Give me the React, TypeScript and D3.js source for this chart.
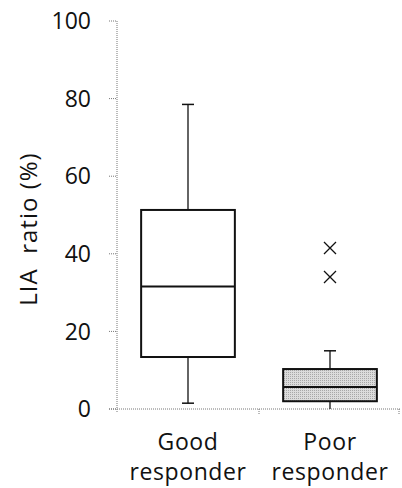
import React from 'react';
import * as d3 from 'd3';

const categories = ['Good responder', 'Poor responder'];
const whiskerLow = [1.5, 0];
const q1 = [13.4, 2];
const median = [31.6, 5.7];
const q3 = [51.3, 10.3];
const whiskerHigh = [78.5, 15];
const outliers = [[], [41.5, 34]];
const yTicks = [0, 20, 40, 60, 80, 100];

const W = 402;
const H = 488;
const margin = { left: 117, right: 1, top: 21, bottom: 79 };
const font = '"Open Sans", sans-serif';

export default function App() {
  const x = d3
    .scaleBand()
    .domain(categories)
    .range([margin.left, W - margin.right])
    .paddingInner(0.34)
    .paddingOuter(0.17);
  const y = d3.scaleLinear().domain([0, 100]).range([H - margin.bottom, margin.top]);
  const bw = x.bandwidth();
  const y0 = y(0);
  const step = x.step();

  return (
    <svg width={W} height={H} style={{ position: 'absolute', left: 0, top: 0 }}>
      <defs>
        <pattern id="dots" width="2" height="2" patternUnits="userSpaceOnUse">
          <rect width="2" height="2" fill="#dcdcdc" />
          <rect width="1" height="1" fill="#a8a8a8" />
        </pattern>
      </defs>
      {/* axes */}
      <line x1={margin.left} x2={margin.left} y1={y(100)} y2={y0 + 3} stroke="#777" strokeDasharray="1,1" />
      <line x1={margin.left - 8} x2={W - 1} y1={y0} y2={y0} stroke="#777" strokeDasharray="1,1" />
      {yTicks.map(t => (
        <g key={t}>
          <line x1={margin.left - 8} x2={margin.left} y1={y(t)} y2={y(t)} stroke="#777" strokeDasharray="1,1" />
          <text x={91} y={y(t)} dy="0.36em" textAnchor="end" fontFamily={font} fontSize={23} fill="#111">
            {t}
          </text>
        </g>
      ))}
      {categories.map((c, i) => (
        <line key={c} x1={margin.left + step * (i + 1) - (i === 1 ? 2 : 0)} x2={margin.left + step * (i + 1) - (i === 1 ? 2 : 0)} y1={y0} y2={y0 + 5} stroke="#777" strokeDasharray="1,1" />
      ))}
      <text transform="translate(37,229) rotate(-90)" textAnchor="middle" fontFamily={font} fontSize={24} letterSpacing={1} fill="#111" style={{ whiteSpace: 'pre' }}>
        {'LIA  ratio (%)'}
      </text>
      {categories.map((c, i) => {
        const x0 = x(c)!;
        const cx = x0 + bw / 2;
        const [l1, l2] = c.split(' ');
        return (
          <g key={c}>
            <line x1={cx} x2={cx} y1={y(q3[i])} y2={y(whiskerHigh[i])} stroke="#111" strokeWidth={1.3} />
            <line x1={cx} x2={cx} y1={y(q1[i])} y2={y(whiskerLow[i])} stroke="#111" strokeWidth={1.3} />
            <line x1={cx - 6} x2={cx + 6} y1={y(whiskerHigh[i])} y2={y(whiskerHigh[i])} stroke="#111" strokeWidth={1.5} />
            {i === 0 && (
              <line x1={cx - 6} x2={cx + 6} y1={y(whiskerLow[i])} y2={y(whiskerLow[i])} stroke="#111" strokeWidth={1.5} />
            )}
            <rect x={x0} y={y(q3[i])} width={bw} height={y(q1[i]) - y(q3[i])} fill={i === 1 ? 'url(#dots)' : '#fff'} stroke="#111" strokeWidth={2} />
            <line x1={x0} x2={x0 + bw} y1={y(median[i])} y2={y(median[i])} stroke="#111" strokeWidth={2} />
            {outliers[i].map((v, j) => (
              <path key={j} d={`M${cx - 6},${y(v) - 6}L${cx + 6},${y(v) + 6}M${cx - 6},${y(v) + 6}L${cx + 6},${y(v) - 6}`} stroke="#111" strokeWidth={1.3} fill="none" />
            ))}
            <text x={cx} y={450} textAnchor="middle" fontFamily={font} fontSize={23} letterSpacing={0.6} fill="#111">{l1}</text>
            <text x={cx} y={480} textAnchor="middle" fontFamily={font} fontSize={23} letterSpacing={0.6} fill="#111">{l2}</text>
          </g>
        );
      })}
    </svg>
  );
}
